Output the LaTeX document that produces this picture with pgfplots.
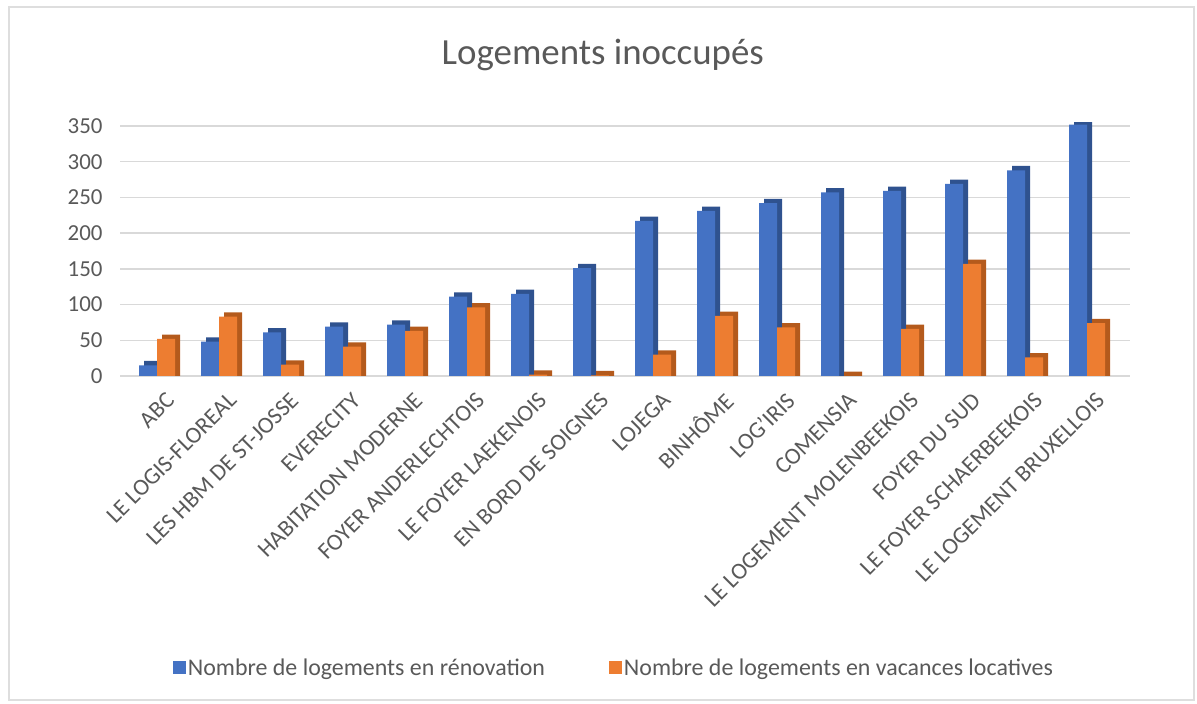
\documentclass[border=0pt]{standalone}
\usepackage{pgfplots}
\pgfplotsset{compat=1.18}
\usepackage{pgfplotstable}
\usepackage{fontspec}
\setmainfont{Carlito}
\definecolor{cblue}{HTML}{4472C4}
\definecolor{cblued}{HTML}{2F528F}
\definecolor{corange}{HTML}{ED7D31}
\definecolor{coranged}{HTML}{B45A1C}
\definecolor{txt}{HTML}{595959}
\definecolor{grid}{HTML}{D9D9D9}
\pgfplotstableread{
x b o
0 15 52
1 48 83
2 61 16
3 69 41
4 72 63
5 111 96
6 115 2
7 151 1
8 217 30
9 231 84
10 242 68
11 257 0
12 259 66
13 269 157
14 288 26
15 352 74
}\datatable
\begin{document}
\begin{tikzpicture}
\path (0,0) rectangle (1197bp,704bp);
\draw[color=black!13, line width=1.5bp] (9bp,4bp) rectangle (1194bp,697bp);
\begin{axis}[
  at={(120bp,328bp)}, anchor=south west,
  scale only axis, width=1010bp, height=253.6bp,
  xmin=-0.6, xmax=15.69, ymin=0, ymax=355,
  axis line style={draw=none},
  tick style={draw=none},
  ytick={0,50,...,350},
  ymajorgrids, grid style={color=grid, line width=1.5bp},
  xtick=data,
  xticklabels={ABC,LE LOGIS-FLOREAL,LES HBM DE ST-JOSSE,EVERECITY,HABITATION MODERNE,FOYER ANDERLECHTOIS,LE FOYER LAEKENOIS,EN BORD DE SOIGNES,LOJEGA,BINHÔME,LOG'IRIS,COMENSIA,LE LOGEMENT MOLENBEEKOIS,FOYER DU SUD,LE FOYER SCHAERBEEKOIS,LE LOGEMENT BRUXELLOIS},
  x tick label style={rotate=45, anchor=east, font=\fontsize{23.5}{25}\selectfont, text=txt, xshift=-2bp, yshift=-21bp, inner sep=0pt},
  y tick label style={font=\fontsize{23}{25}\selectfont, text=txt, xshift=-14bp},
  /pgf/number format/assume math mode=true,
  ybar, bar width=18bp,
  title={Logements inoccupés},
  title style={at={(0.478,1.243)}, anchor=center, font=\fontsize{37}{40}\selectfont, text=txt},
  legend style={at={(0.489,-1.151)}, anchor=center, draw=none, legend columns=2, font=\fontsize{24}{26}\selectfont, text=txt, /tikz/every even column/.append style={column sep=62bp}},
  legend image code/.code={\fill[#1] (0bp,-6.5bp) rectangle (13bp,6.5bp);},
]
\addplot[fill=cblued, draw=none, bar shift=-4bp, forget plot] table[x=x, y expr=\thisrow{b}+6] {\datatable};
\addplot[fill=cblue, draw=none, bar shift=-9bp] table[x=x, y=b] {\datatable};
\addplot[fill=coranged, draw=none, bar shift=14bp, forget plot] table[x=x, y expr=\thisrow{o}+6] {\datatable};
\addplot[fill=corange, draw=none, bar shift=9bp] table[x=x, y=o] {\datatable};
\legend{Nombre de logements en rénovation, Nombre de logements en vacances locatives}
\end{axis}
\end{tikzpicture}
\end{document}
